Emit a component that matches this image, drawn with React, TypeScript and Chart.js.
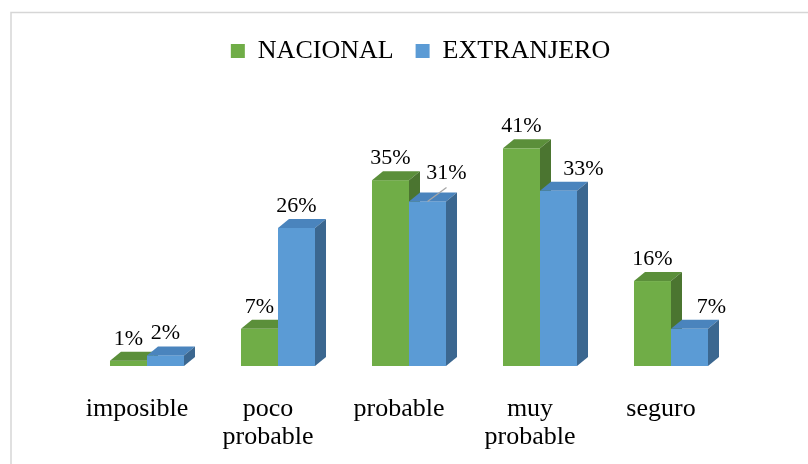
import React, { useEffect, useRef } from "react";
import { Chart, registerables } from "chart.js";

Chart.register(...registerables);

// ---- data ----
const categories: (string | string[])[] = [
  "imposible",
  ["poco", "probable"],
  "probable",
  ["muy", "probable"],
  "seguro",
];
const seriesNames = ["NACIONAL", "EXTRANJERO"];
const nacional = [1, 7, 35, 41, 16];
const extranjero = [2, 26, 31, 33, 7];

const FONT = "'Liberation Serif', 'Times New Roman', serif";

const faceColors = [
  { front: "#70ad47", top: "#5b8f3a", side: "#4b7530" },
  { front: "#5b9bd5", top: "#4a84bd", side: "#3b6790" },
];

// per-label placement tweaks [dataset][category]
const labelShift = [
  [{ dx: 0, dy: 0 }, { dx: 0, dy: 0 }, { dx: 0, dy: 0 }, { dx: 0, dy: 0 }, { dx: 0, dy: 0 }],
  [{ dx: 0, dy: 0 }, { dx: 0, dy: 0 }, { dx: 19, dy: -6, leader: true }, { dx: 25, dy: 0 }, { dx: 22, dy: 0 }],
];

const frameBorder = {
  id: "frameBorder",
  beforeDraw(chart: any) {
    const ctx = chart.ctx;
    ctx.save();
    ctx.strokeStyle = "#d6d6d6";
    ctx.lineWidth = 1.5;
    ctx.strokeRect(11, 12.5, 1000, 1000);
    ctx.restore();
  },
};

const bars3d = {
  id: "bars3d",
  beforeDatasetsDraw(chart: any, _args: any, opts: any) {
    const ctx = chart.ctx;
    const dx = opts.depthX;
    const dy = opts.depthY;
    const metas = chart.data.datasets.map((_d: any, i: number) => chart.getDatasetMeta(i));
    const n = chart.data.labels.length;
    ctx.save();
    for (let i = 0; i < n; i++) {
      metas.forEach((meta: any, d: number) => {
        const el = meta.data[i];
        if (!el) return;
        const { x, y, base, width } = el.getProps(["x", "y", "base", "width"], true);
        const l = x - width / 2;
        const r = x + width / 2;
        const c = faceColors[d];
        ctx.fillStyle = c.front;
        ctx.fillRect(l, y, width, base - y);
        ctx.fillStyle = c.top;
        ctx.beginPath();
        ctx.moveTo(l, y);
        ctx.lineTo(l + dx, y - dy);
        ctx.lineTo(r + dx, y - dy);
        ctx.lineTo(r, y);
        ctx.closePath();
        ctx.fill();
        ctx.fillStyle = c.side;
        ctx.beginPath();
        ctx.moveTo(r, y);
        ctx.lineTo(r + dx, y - dy);
        ctx.lineTo(r + dx, base - dy);
        ctx.lineTo(r, base);
        ctx.closePath();
        ctx.fill();
      });
    }
    // value labels
    ctx.font = `${opts.labelSize}px ${FONT}`;
    ctx.textAlign = "center";
    ctx.textBaseline = "alphabetic";
    metas.forEach((meta: any, d: number) => {
      const values = chart.data.datasets[d].data;
      meta.data.forEach((el: any, i: number) => {
        const { x, y } = el.getProps(["x", "y"], true);
        const s: any = labelShift[d][i];
        const lx = x + s.dx;
        const ly = y - opts.labelGap + s.dy;
        if (s.leader) {
          ctx.strokeStyle = "#a6a6a6";
          ctx.lineWidth = 1.3;
          ctx.beginPath();
          ctx.moveTo(x, y);
          ctx.lineTo(x + s.dx, y - 14);
          ctx.stroke();
        }
        ctx.fillStyle = "#000";
        ctx.fillText(`${values[i]}%`, lx, ly);
      });
    });
    ctx.restore();
    return false;
  },
};

export default function App() {
  const ref = useRef<HTMLCanvasElement | null>(null);
  useEffect(() => {
    if (!ref.current) return;
    const chart = new Chart(ref.current, {
      type: "bar",
      data: {
        labels: categories,
        datasets: [
          {
            label: seriesNames[0],
            data: nacional,
            backgroundColor: faceColors[0].front,
            borderWidth: 0,
            categoryPercentage: 0.565,
            barPercentage: 1,
          },
          {
            label: seriesNames[1],
            data: extranjero,
            backgroundColor: faceColors[1].front,
            borderWidth: 0,
            categoryPercentage: 0.565,
            barPercentage: 1,
          },
        ],
      },
      options: {
        responsive: false,
        animation: false,
        events: [],
        layout: { padding: { left: 81.5, right: 48.5, top: 16, bottom: 0 } },
        plugins: {
          legend: {
            position: "top",
            labels: {
              boxWidth: 14,
              boxHeight: 14,
              padding: 22,
              color: "#000",
              font: { family: FONT, size: 26 },
            },
          },
          tooltip: { enabled: false },
          bars3d: { depthX: 11, depthY: 9, labelSize: 22, labelGap: 16 },
        } as any,
        scales: {
          x: {
            grid: { display: false, drawTicks: false },
            border: { display: false },
            ticks: {
              color: "#000",
              padding: 29.5,
              labelOffset: -10,
              maxRotation: 0,
              autoSkip: false,
              font: { family: FONT, size: 26, lineHeight: 1.06 },
            },
            afterFit(scale: any) {
              scale.height = 98;
            },
          },
          y: {
            position: "right",
            min: 0,
            max: 55,
            grid: { display: false },
            border: { display: false },
            ticks: { display: false },
            afterFit(scale: any) {
              scale.width = 23;
            },
          },
        },
      },
      plugins: [frameBorder, bars3d],
    });
    return () => chart.destroy();
  }, []);
  return (
    <div style={{ position: "fixed", left: 0, top: 0, width: 808, height: 464, background: "#fff" }}>
      <canvas ref={ref} width={808} height={464} style={{ display: "block" }} />
    </div>
  );
}
